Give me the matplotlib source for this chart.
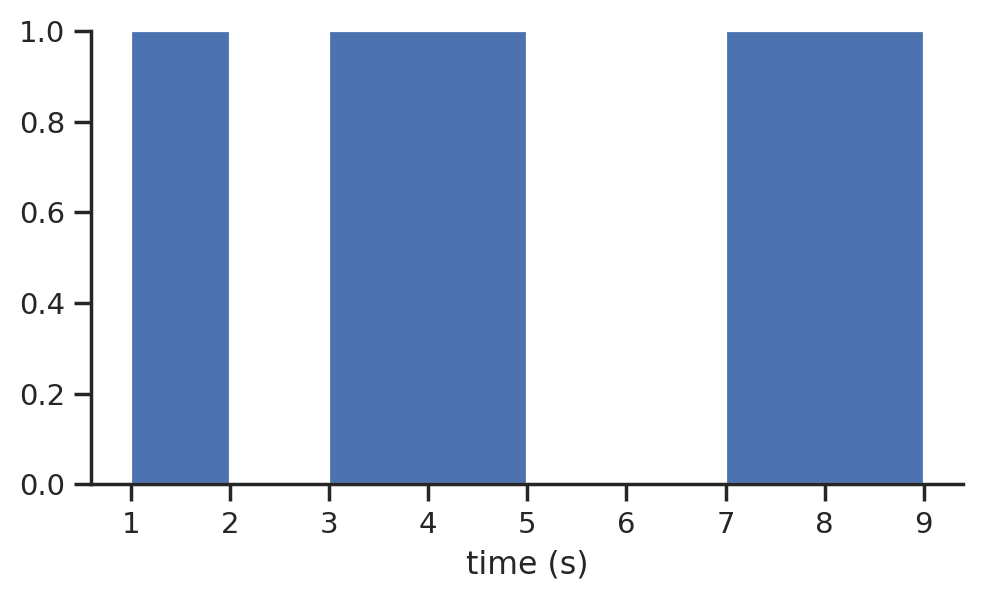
import matplotlib
matplotlib.use("Agg")
import matplotlib.pyplot as plt
import seaborn as sns

# on intervals (seconds)
starts = [1, 3, 7]
ends = [2, 5, 9]
heights = [1.0, 1.0, 1.0]

sns.set_theme(style="ticks")
plt.rcParams["font.family"] = ["DejaVu Sans"]

fig, ax = plt.subplots(figsize=(4.91, 2.99), dpi=200)
widths = [e - s for s, e in zip(starts, ends)]
ax.bar(starts, heights, width=widths, align="edge",
       color="#4C72B0", edgecolor="white", linewidth=0.8)
ax.set_ylim(0, 1)
ax.set_xticks(range(1, 10))
ax.tick_params(labelsize=10.5)
ax.set_xlabel("time (s)", fontsize=11.4)
sns.despine(ax=ax)
fig.subplots_adjust(left=0.093, right=0.981, top=0.948, bottom=0.19)
fig.savefig("out.png", dpi=200)
